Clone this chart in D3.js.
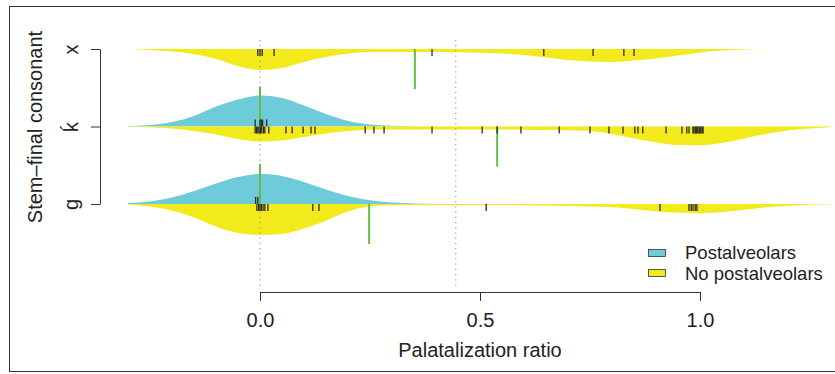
<!DOCTYPE html>
<html><head><meta charset="utf-8">
<script src="https://cdn.jsdelivr.net/npm/d3@7"></script>
<style>body{margin:0;background:#fff}svg{display:block;font-family:"Liberation Sans",Arial,Helvetica,sans-serif}</style>
</head><body><svg id="c" width="835" height="374"></svg>
<script>
// ---------- data ----------
const categories = ["g", "ḱ", "x"];
const groups = ["Postalveolars", "No postalveolars"];
const xTicks = [0, 0.5, 1];
const xTitle = "Palatalization ratio";
const yTitle = "Stem–final consonant";

// density grid (palatalization ratio) and density estimates
const grid = [-0.30,-0.25,-0.20,-0.15,-0.10,-0.05,0.00,0.05,0.10,0.15,0.20,0.25,0.30,0.35,0.40,0.45,0.50,0.55,0.60,0.65,0.70,0.75,0.80,0.85,0.90,0.95,1.00,1.05,1.10,1.15,1.20,1.25,1.30];
const densXNoPost = [0,0.10,0.25,0.50,1.00,1.70,2.10,1.90,1.30,0.80,0.45,0.30,0.30,0.30,0.30,0.33,0.37,0.45,0.60,0.85,1.10,1.25,1.30,1.15,0.95,0.65,0.35,0.16,0.05,0.01,0,0,0];
const densKPost   = [0.04,0.15,0.45,1.05,2.00,2.70,3.10,2.85,2.10,1.25,0.55,0.20,0.07,0.02,0,0,0,0,0,0,0,0,0,0,0,0,0,0,0,0,0,0,0];
const densKNoPost = [0.02,0.08,0.20,0.45,0.80,1.25,1.50,1.40,1.05,0.70,0.45,0.33,0.30,0.30,0.30,0.30,0.30,0.30,0.32,0.35,0.37,0.45,0.75,1.20,1.60,1.85,1.88,1.65,1.20,0.75,0.40,0.20,0.05];
const densGPost   = [0.08,0.25,0.65,1.30,2.05,2.70,3.00,2.80,2.20,1.45,0.80,0.37,0.15,0.05,0.01,0,0,0,0,0,0,0,0,0,0,0,0,0,0,0,0,0,0];
const densGNoPost = [0.06,0.25,0.65,1.35,2.25,2.90,3.10,3.00,2.45,1.65,0.75,0.22,0.13,0.11,0.10,0.10,0.10,0.10,0.12,0.15,0.20,0.25,0.32,0.50,0.73,0.88,0.92,0.80,0.58,0.33,0.18,0.08,0.02];

// individual observations (bean lines)
const obsXNoPost = [-0.005,0.0,0.005,0.032,0.391,0.645,0.757,0.827,0.85];
const obsKPost   = [-0.011,0.0,0.003,0.006,0.015];
const obsKNoPost = [-0.011,-0.008,-0.005,-0.002,0.001,0.004,0.008,0.011,0.02,0.059,0.073,0.098,0.116,0.125,0.239,0.259,0.282,0.391,0.505,0.539,0.593,0.68,0.75,0.793,0.825,0.852,0.859,0.87,0.923,0.959,0.97,0.975,0.984,0.986,0.989,0.991,0.993,0.995,0.998,1.0,1.002,1.005,1.007];
const obsGPost   = [-0.01,-0.005];
const obsGNoPost = [-0.007,-0.003,0.0,0.003,0.007,0.011,0.018,0.12,0.134,0.514,0.909,0.975,0.98,0.984,0.989,0.993];

// bean averages and overall averages
const meanXNoPost = 0.352;
const meanKPost = 0.0, meanKNoPost = 0.539;
const meanGPost = 0.0, meanGNoPost = 0.248;
const overallMeans = [0.0, 0.445];

// ---------- styling ----------
const colBlue = "#6dcbda", colYellow = "#f2ea1b", colGreen = "#66bb44", ink = "#222";
const svg = d3.select("#c");

const x = d3.scaleLinear().domain([0, 1]).range([260, 700]);
const y = d3.scalePoint().domain(categories).range([204, 49]);
const w = d3.scaleLinear().domain([0, 3.1]).range([0, 31]);

const beans = [
  {cat: "x", grp: 1, dens: densXNoPost, obs: obsXNoPost, mean: meanXNoPost},
  {cat: "ḱ", grp: 0, dens: densKPost,   obs: obsKPost,   mean: meanKPost},
  {cat: "ḱ", grp: 1, dens: densKNoPost, obs: obsKNoPost, mean: meanKNoPost},
  {cat: "g", grp: 0, dens: densGPost,   obs: obsGPost,   mean: meanGPost},
  {cat: "g", grp: 1, dens: densGNoPost, obs: obsGNoPost, mean: meanGNoPost}
];
const colors = [colBlue, colYellow];
const dir = g => g === 0 ? -1 : 1;

// frame
svg.append("rect").attr("x", 9.5).attr("y", 6.5).attr("width", 840).attr("height", 365)
  .attr("fill", "none").attr("stroke", "#333").attr("stroke-width", 1);

// beans
beans.forEach(b => {
  const base = y(b.cat), s = dir(b.grp);
  const area = d3.area()
    .x((d, i) => x(grid[i]))
    .y0(base)
    .y1(d => base + s * w(d))
    .curve(d3.curveMonotoneX);
  svg.append("path").datum(b.dens).attr("d", area).attr("fill", colors[b.grp]);
});

// overall average lines
svg.selectAll("line.overall").data(overallMeans).join("line")
  .attr("x1", d => x(d)).attr("x2", d => x(d)).attr("y1", 40).attr("y2", 287)
  .attr("stroke", "#888").attr("stroke-width", 1).attr("stroke-dasharray", "1.2,4");

// axes
const gx = svg.append("g").attr("transform", "translate(0,292)")
  .call(d3.axisBottom(x).tickValues(xTicks).tickFormat(d3.format(".1f")).tickSize(9).tickSizeOuter(0).tickPadding(12));
gx.selectAll("text").attr("font-size", 20).attr("fill", ink);
const gy = svg.append("g").attr("transform", "translate(100,0)")
  .call(d3.axisLeft(y).tickSize(9).tickSizeOuter(0));
gy.selectAll("text").attr("font-size", 20).attr("fill", ink)
  .attr("transform", "rotate(-90)").attr("x", 0).attr("y", -22).attr("dy", 0).attr("text-anchor", "middle");
[gx, gy].forEach(g => { g.attr("font-family", null); g.selectAll("path,line").attr("stroke", "#333"); });

// bean averages
beans.forEach(b => {
  const base = y(b.cat), s = dir(b.grp);
  svg.append("line").attr("x1", x(b.mean)).attr("x2", x(b.mean))
    .attr("y1", base).attr("y2", base + s * 40)
    .attr("stroke", colGreen).attr("stroke-width", 2);
});

// bean lines
beans.forEach(b => {
  const base = y(b.cat), s = dir(b.grp);
  svg.append("g").selectAll("line").data(b.obs).join("line")
    .attr("x1", d => x(d)).attr("x2", d => x(d))
    .attr("y1", base).attr("y2", base + s * 7)
    .attr("stroke", "#2a2a2a").attr("stroke-width", 1.3);
});

// titles
svg.append("text").attr("x", 480).attr("y", 357).attr("text-anchor", "middle")
  .attr("font-size", 20).attr("fill", ink).text(xTitle);
svg.append("text").attr("transform", "translate(42,127) rotate(-90)").attr("text-anchor", "middle")
  .attr("font-size", 20).attr("fill", ink).text(yTitle);

// legend
const leg = svg.append("g");
groups.forEach((g, i) => {
  leg.append("rect").attr("x", 648.5).attr("y", [249.5, 269.5][i]).attr("width", 17).attr("height", 7)
    .attr("fill", colors[i]).attr("stroke", "#333").attr("stroke-width", 0.8);
  leg.append("text").attr("x", 685).attr("y", [259, 280][i]).attr("font-size", 18.5).attr("fill", ink).text(g);
});
</script></body></html>
